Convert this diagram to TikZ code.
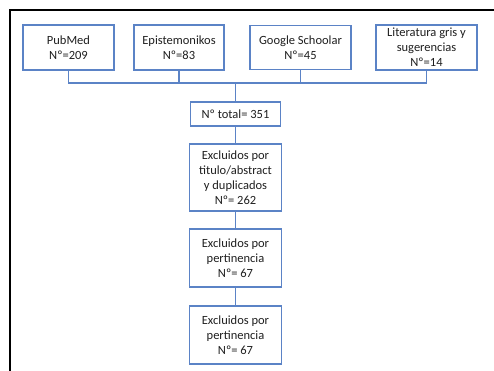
\documentclass[tikz,border=0pt]{standalone}
\usepackage{fontspec}
\setmainfont{Carlito}
\definecolor{boxblue}{HTML}{5B83C6}
\definecolor{txt}{HTML}{1F1F1F}
\begin{document}
\begin{tikzpicture}[x=1pt,y=-1pt,
  box/.style={draw=boxblue,line width=1.1pt,fill=white,align=center,inner sep=1pt,
    font=\fontsize{12.5}{15}\selectfont,text=txt},
  conn/.style={draw=boxblue,line width=1.1pt}]
\useasboundingbox (0,0) rectangle (494,371);
\fill[white] (0,0) rectangle (494,371);
\draw[line width=2pt,black] (10,371) -- (10,10) -- (494,10);
\node[box,minimum width=91pt,minimum height=45pt] (pub) at (68.5,47.5) {PubMed\\Nº=209};
\node[box,minimum width=90pt,minimum height=45pt] (epi) at (179,47.5) {Epistemonikos\\Nº=83};
\node[box,minimum width=101pt,minimum height=44pt] (goo) at (300.5,47.5) {Google Schoolar\\Nº=45};
\node[box,minimum width=101pt,minimum height=45pt] (lit) at (426.5,47.5) {Literatura gris y\\sugerencias\\Nº=14};
\coordinate (bus) at (235.5,83);
\node[box,minimum width=90pt,minimum height=24pt] (tot) at (235.5,114) {Nº total= 351};
\node[box,minimum width=92pt,minimum height=67pt] (ex1) at (235.5,177.5) {Excluidos por\\titulo/abstract\\y duplicados\\Nº= 262};
\node[box,minimum width=92pt,minimum height=58pt] (ex2) at (235.5,258) {Excluidos por\\pertinencia\\Nº= 67};
\node[box,minimum width=92pt,minimum height=58pt] (ex3) at (235.5,335) {Excluidos por\\pertinencia\\Nº= 67};
\draw[conn] (pub.south) |- (bus) -| (lit.south);
\draw[conn] (epi.south) -- (epi.south |- bus);
\draw[conn] (goo.south) -- (goo.south |- bus);
\draw[conn] (bus) -- (tot.north);
\draw[conn] (tot.south) -- (ex1.north);
\draw[conn] (ex1.south) -- (ex2.north);
\draw[conn] (ex2.south) -- (ex3.north);
\end{tikzpicture}
\end{document}
